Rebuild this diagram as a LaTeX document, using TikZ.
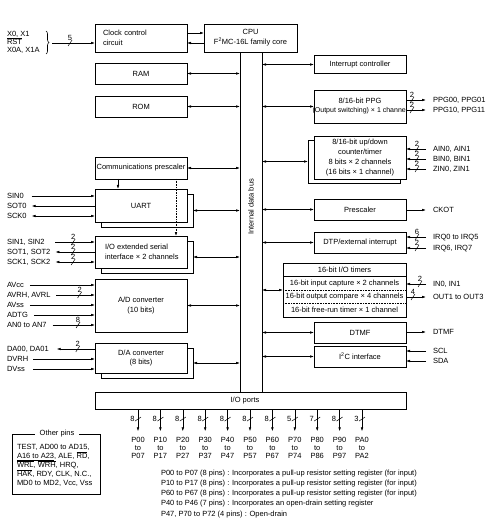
\documentclass[tikz,border=0pt]{standalone}
\usepackage{fontspec}
\setmainfont{Liberation Sans}
\usetikzlibrary{arrows.meta,shapes.misc,decorations.pathreplacing}
\newcommand\ovl[1]{$\overline{\mbox{#1}}$}
\begin{document}
\begin{tikzpicture}[x=1pt,y=-1pt,
  every node/.style={font=\fontsize{7.5}{9.8}\selectfont, inner sep=0pt, outer sep=0pt},
  box/.style={draw, fill=white, line width=0.7pt, minimum width=92pt, align=center},
  shd/.style={draw, fill=white, line width=0.7pt, minimum width=92pt},
  conn/.style={line width=0.6pt, -{Latex[length=4pt,width=2.6pt]}},
  dconn/.style={line width=0.6pt, {Latex[length=4pt,width=2.6pt]}-{Latex[length=4pt,width=2.6pt]}},
  lbl/.style={anchor=west, text height=5.4pt, text depth=0pt},
  bsl/.style={strike out, draw, -, line width=0.5pt, minimum width=4pt, minimum height=6pt},
  bslv/.style={strike out, draw, -, line width=0.5pt, minimum width=6pt, minimum height=4pt},
  num/.style={label={[label distance=-0.5pt]above:#1}},
  numl/.style={label={[label distance=0.5pt]left:#1}},
]
\useasboundingbox (0,0) rectangle (489,529);

% ---------- bus and CPU ----------
\node[draw, fill=white, line width=0.7pt, minimum width=22pt, minimum height=340pt] (bus) at (251,222) {};
\node[rotate=90] (bustxt) at (251,207) {Internal data bus};
\node[box, minimum width=93pt, minimum height=28pt] (cpu) at (250.5,38) {CPU\\F\textsuperscript{2}MC-16L family core};
\node[box, minimum height=28pt, text width=76pt, align=left] (clk) at (141,38) {Clock control\\circuit};

% ---------- left blocks ----------
\node[box, minimum height=21pt] (ram) at (141,73.5) {RAM};
\node[box, minimum height=21pt] (rom) at (141,106.5) {ROM};
\node[box, minimum height=22pt] (comm) at (141,168) {Communications prescaler};
\node[shd, minimum height=33pt] (uarts) at (147,210.5) {};
\node[box, minimum height=33pt] (uart) at (141,205.5) {UART};
\node[shd, minimum height=32pt] (iosers) at (147,257) {};
\node[box, minimum height=32pt] (ioser) at (141,252) {};
\node[anchor=west, align=left] (iosertxt) at (105,252) {I/O extended serial\\interface × 2 channels};
\node[box, minimum height=53pt] (adc) at (141,305.5) {A/D converter\\(10 bits)};
\node[shd, minimum height=30pt] (dacs) at (147,363) {};
\node[box, minimum height=30pt] (dac) at (141,358) {D/A converter\\(8 bits)};

% ---------- right blocks ----------
\node[box, minimum height=18pt] (intc) at (360,64.5) {Interrupt controller};
\node[box, minimum height=33pt] (ppg) at (360,106.5) {};
\node[align=center] (ppgtxt) at (360,106) {8/16-bit PPG\\{\fontsize{7}{9.8}\selectfont(Output switching) × 1 channel}};
\node[shd, minimum height=43pt] (cnts) at (354,161.5) {};
\node[box, minimum height=43pt] (cnt) at (360,157.5) {8/16-bit up/down\\counter/timer\\8 bits × 2 channels\\(16 bits × 1 channel)};
\node[box, minimum height=21pt] (presc) at (360,209.5) {Prescaler};
\node[box, minimum height=21pt] (dtp) at (360,242.5) {DTP/external interrupt};
\node[box, minimum width=123pt, minimum height=54pt] (tmr) at (344.5,290) {};
\draw[line width=0.6pt] (283,276.5) -- (406,276.5);
\draw[line width=0.6pt, densely dotted] (283,290.5) -- (406,290.5);
\draw[line width=0.6pt, densely dotted] (283,303.5) -- (406,303.5);
\node (tmr0) at (344.5,270) {16-bit I/O timers};
\node (tmr1) at (344.5,284) {16-bit input capture × 2 channels};
\node (tmr2) at (344.5,297) {16-bit output compare × 4 channels};
\node (tmr3) at (344.5,310) {16-bit free-run timer × 1 channel};
\node[box, minimum height=21pt] (dtmf) at (360,332.5) {DTMF};
\node[box, minimum height=21pt] (i2c) at (360,356.5) {I\textsuperscript{2}C interface};

% ---------- I/O ports ----------
\node[box, minimum width=311pt, minimum height=17pt] (io) at (250.5,400.5) {};
\node (iotxt) at (245,400.5) {I/O ports};

% ---------- internal connectors ----------
\draw[conn] ([yshift=5pt]clk.east) -- ([yshift=5pt]cpu.west);
\draw[conn] ([yshift=-5pt]cpu.west) -- ([yshift=-5pt]clk.east);
\draw[dconn] (ram.east) -- (ram.east -| bus.west);
\draw[dconn] (rom.east) -- (rom.east -| bus.west);
\draw[dconn] (comm.east) -- (comm.east -| bus.west);
\draw[dconn] (uarts.east) -- (uarts.east -| bus.west);
\draw[dconn] (iosers.east) -- (iosers.east -| bus.west);
\draw[dconn] (adc.east) -- (adc.east -| bus.west);
\draw[dconn] (dacs.east) -- (dacs.east -| bus.west);
\draw[dconn] (intc.west -| bus.east) -- (intc.west);
\draw[dconn] (ppg.west -| bus.east) -- (ppg.west);
\draw[dconn] (cnts.west -| bus.east) -- (cnts.west);
\draw[dconn] (presc.west -| bus.east) -- (presc.west);
\draw[dconn] (dtp.west -| bus.east) -- (dtp.west);
\draw[dconn] (tmr.west -| bus.east) -- (tmr.west);
\draw[dconn] (dtmf.west -| bus.east) -- (dtmf.west);
\draw[dconn] (i2c.west -| bus.east) -- (i2c.west);
\draw[conn] ([xshift=-23pt]comm.south) -- ([xshift=-23pt]uart.north);
\draw[conn, densely dotted] ([xshift=35pt]comm.south) -- ([xshift=35pt]ioser.north);

% ---------- clock inputs ----------
\node[lbl] (x0) at (7,34) {X0, X1};
\node[lbl] (rst) at (7,42) {\ovl{RST}};
\node[lbl] (x0a) at (7,50) {X0A, X1A};
\draw[line width=0.6pt, decorate, decoration={brace, amplitude=3pt}] (46,31) -- (46,54);
\coordinate (bt) at (52,43);
\draw[conn] (bt) -- (bt -| clk.west) node[bsl, pos=.42, num=5] {};

% ---------- serial pins ----------
\node[lbl] (sin0) at (7,196) {SIN0};
\node[lbl] (sot0) at (7,206) {SOT0};
\node[lbl] (sck0) at (7,216) {SCK0};
\draw[conn] ([xshift=5pt]sck0.east |- sin0.east) -- (sin0.east -| uart.west);
\draw[conn] (sot0.east -| uart.west) -- ([xshift=5pt]sck0.east |- sot0.east);
\draw[dconn] ([xshift=5pt]sck0.east) -- (sck0.east -| uart.west);
\node[lbl] (sin1) at (7,242) {SIN1, SIN2};
\node[lbl] (sot1) at (7,252) {SOT1, SOT2};
\node[lbl] (sck1) at (7,262) {SCK1, SCK2};
\draw[conn] ([xshift=5pt]sck1.east |- sin1.east) -- (sin1.east -| ioser.west) node[bsl, pos=.45, num=2] {};
\draw[conn] (sot1.east -| ioser.west) -- ([xshift=5pt]sck1.east |- sot1.east) node[bsl, pos=.55, num=2] {};
\draw[dconn] ([xshift=5pt]sck1.east) -- (sck1.east -| ioser.west) node[bsl, pos=.45, num=2] {};

% ---------- analog pins ----------
\node[lbl] (avcc) at (7,285) {AVcc};
\node[lbl] (avrh) at (7,295) {AVRH, AVRL};
\node[lbl] (avss) at (7,305) {AVss};
\node[lbl] (adtg) at (7,315) {ADTG};
\node[lbl] (an0) at (7,325) {AN0 to AN7};
\draw[conn] ([xshift=6pt]avcc.east) -- (avcc.east -| adc.west);
\draw[conn] ([xshift=6pt]avrh.east) -- (avrh.east -| adc.west) node[bsl, pos=.6, num=2] {};
\draw[conn] ([xshift=6pt]avss.east) -- (avss.east -| adc.west);
\draw[conn] ([xshift=6pt]adtg.east) -- (adtg.east -| adc.west);
\draw[conn] ([xshift=6pt]an0.east) -- (an0.east -| adc.west) node[bsl, pos=.6, num=8] {};
\node[lbl] (da0) at (7,349) {DA00, DA01};
\node[lbl] (dvrh) at (7,359) {DVRH};
\node[lbl] (dvss) at (7,369) {DVss};
\draw[conn] (da0.east -| dac.west) -- ([xshift=8pt]da0.east) node[bsl, pos=.45, num=2] {};
\draw[conn] ([xshift=5pt]dvrh.east) -- (dvrh.east -| dac.west);
\draw[conn] ([xshift=8pt]dvss.east) -- (dvss.east -| dac.west);

% ---------- right pins ----------
\node[lbl] (ppg0) at (433,100) {PPG00, PPG01};
\node[lbl] (ppg1) at (433,110) {PPG10, PPG11};
\draw[conn] (ppg0.west -| ppg.east) -- ([xshift=-7pt]ppg0.west) node[bsl, pos=.3, num=2] {};
\draw[conn] (ppg1.west -| ppg.east) -- ([xshift=-7pt]ppg1.west) node[bsl, pos=.3, num=2] {};
\node[lbl] (ain) at (433,149) {AIN0, AIN1};
\node[lbl] (bin) at (433,159) {BIN0, BIN1};
\node[lbl] (zin) at (433,169) {ZIN0, ZIN1};
\draw[conn] ([xshift=-7pt]ain.west) -- (ain.west -| cnt.east) node[bsl, pos=.45, num=2] {};
\draw[conn] ([xshift=-7pt]bin.west) -- (bin.west -| cnt.east) node[bsl, pos=.45, num=2] {};
\draw[conn] ([xshift=-7pt]zin.west) -- (zin.west -| cnt.east) node[bsl, pos=.45, num=2] {};
\node[lbl] (ckot) at (433,210) {CKOT};
\draw[conn] (ckot.west -| presc.east) -- ([xshift=-7pt]ckot.west);
\node[lbl] (irq0) at (433,237) {IRQ0 to IRQ5};
\node[lbl] (irq6) at (433,248) {IRQ6, IRQ7};
\draw[conn] ([xshift=-7pt]irq0.west) -- (irq0.west -| dtp.east) node[bsl, pos=.45, num=6] {};
\draw[conn] ([xshift=-7pt]irq6.west) -- (irq6.west -| dtp.east) node[bsl, pos=.45, num=2] {};
\node[lbl] (in0) at (433,284) {IN0, IN1};
\node[lbl] (out1) at (433,297) {OUT1 to OUT3};
\draw[conn] ([xshift=-7pt]in0.west) -- (in0.west -| tmr.east) node[bsl, pos=.3, num=2] {};
\draw[conn] (out1.west -| tmr.east) -- ([xshift=-7pt]out1.west) node[bsl, pos=.35, num=4] {};
\node[lbl] (dtmfo) at (433,332) {DTMF};
\draw[conn] (dtmfo.west -| dtmf.east) -- ([xshift=-7pt]dtmfo.west);
\node[lbl] (scl) at (433,351) {SCL};
\node[lbl] (sda) at (433,361) {SDA};
\draw[conn] ([xshift=-7pt]scl.west) -- (scl.west -| i2c.east);
\draw[conn] ([xshift=-7pt]sda.west) -- (sda.west -| i2c.east);

% ---------- ports ----------
\foreach \i/\x/\n/\a/\b in {0/138/8/P00/P07, 1/160.4/8/P10/P17, 2/182.8/8/P20/P27, 3/205.2/8/P30/P37,
  4/227.6/8/P40/P47, 5/250/8/P50/P57, 6/272.4/8/P60/P67, 7/294.8/5/P70/P74,
  8/317.2/7/P80/P86, 9/339.6/8/P90/P97, 10/362/3/PA0/PA2}{
  \node[align=center, font=\fontsize{7.5}{8}\selectfont] (p\i) at (\x,448) {\a\\to\\\b};
  \draw[conn] (p\i.north |- io.south) -- ([yshift=6pt]p\i.north) node[bslv, pos=.45, numl=\n] {};
}
\node[lbl] (n1) at (161,473) {P00 to P07 (8 pins) : Incorporates a pull-up resistor setting register (for input)};
\node[lbl] (n2) at (161,483) {P10 to P17 (8 pins) : Incorporates a pull-up resistor setting register (for input)};
\node[lbl] (n3) at (161,493) {P60 to P67 (8 pins) : Incorporates a pull-up resistor setting register (for input)};
\node[lbl] (n4) at (161,503) {P40 to P46 (7 pins) : Incorporates an open-drain setting register};
\node[lbl] (n5) at (161,513.5) {P47, P70 to P72 (4 pins) : Open-drain};

% ---------- other pins ----------
\node[draw, line width=0.7pt, minimum width=88pt, minimum height=60pt] (oth) at (56,464) {};
\node[fill=white, inner xsep=5pt] (othtitle) at (57,434) {Other pins};
\node[lbl] (o1) at (17,447) {TEST, AD00 to AD15,};
\node[lbl] (o2) at (17,456) {\underline{A16 to A23}, ALE, \ovl{RD},};
\node[lbl] (o3) at (17,465) {\ovl{WRL}, \ovl{WRH}, HRQ,};
\node[lbl] (o4) at (17,474) {\ovl{HAK}, RDY, CLK, N.C.,};
\node[lbl] (o5) at (17,483) {MD0 to MD2, Vcc, Vss};
\end{tikzpicture}
\end{document}
